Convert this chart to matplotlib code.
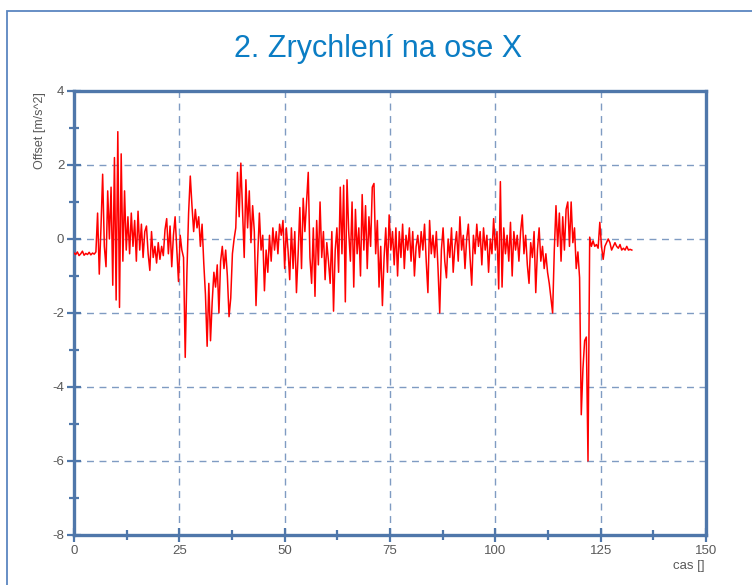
import numpy as np
import matplotlib

matplotlib.use("Agg")
import matplotlib.pyplot as plt
from matplotlib.patches import Rectangle
from matplotlib.ticker import MultipleLocator

plt.rcParams["font.family"] = ["Liberation Sans", "DejaVu Sans"]
plt.rcParams["axes.unicode_minus"] = False

# acceleration samples, one every 0.4 s
sample_step = 0.4
accel = [
    -0.38, -0.42, -0.35, -0.45, -0.40, -0.33, -0.44, -0.39, -0.42, -0.36,
    -0.43, -0.38, -0.41, -0.35, 0.70, -0.95, 0.30, 1.75, -0.20, -0.75,
    1.30, 0.00, 1.40, -1.25, 2.20, -1.65, 2.90, -1.85, 2.30, -0.60,
    1.30, -0.30, 0.60, -0.40, 0.70, -0.20, 0.50, -0.60, 0.75, -0.30,
    0.40, -0.50, 0.20, 0.35, -0.40, -0.85, 0.20, -0.50, -0.20, -0.65,
    -0.10, -0.55, -0.20, -0.45, 0.25, 0.55, -0.40, 0.35, -0.75, 0.10,
    0.60, -0.30, -1.15, 0.10, -0.30, -0.50, -3.20, -0.90, 0.70, 1.70,
    0.90, 0.20, 0.80, 0.30, 0.60, -0.20, 0.40, -0.65, -1.50, -2.90,
    -1.20, -2.75, -1.70, -0.90, -1.30, -0.70, -2.00, -0.60, -0.20, -0.80,
    -0.30, -1.00, -2.10, -1.60, -0.40, 0.00, 0.30, 1.80, 0.60, 2.05,
    0.80, -0.50, 1.60, 0.30, 1.30, -0.10, 0.90, 0.20, -1.80, -0.50,
    0.70, -0.30, 0.10, -1.40, -0.30, -0.90, 0.10, -0.60, 0.30, -0.30,
    0.20, -0.40, 0.40, 0.10, 0.50, -0.80, 0.30, -0.30, -1.10, 0.30,
    -0.80, 0.20, -1.45, -0.40, 0.85, -0.80, 1.10, 0.20, 1.00, 1.80,
    -0.50, -1.20, 0.30, -1.55, 0.50, -0.70, 1.00, -0.50, 0.20, -1.10,
    -0.10, -0.60, -1.20, 0.20, -1.95, -0.30, 0.30, -0.90, 1.40, -0.40,
    1.45, -1.70, 1.60, 0.20, -0.60, 1.00, -1.30, 0.80, -0.40, 0.30,
    -1.00, 1.20, -0.30, 0.90, -0.80, 0.60, -0.20, 1.40, 1.50, -0.40,
    0.50, -1.30, -0.20, -1.80, -0.50, 0.30, -0.90, 0.65, -0.30, 0.20,
    -0.70, 0.30, -1.00, 0.20, -0.50, 0.40, -0.80, 0.10, -0.30, 0.30,
    -0.60, 0.20, -1.00, -0.20, 0.10, -0.50, 0.20, -0.30, 0.40, -0.60,
    -1.45, 0.50, -0.40, 0.10, -0.50, 0.20, -0.80, -2.00, -0.30, 0.30,
    -0.60, -1.05, 0.00, -0.50, 0.30, -0.90, -0.20, 0.20, -0.60, 0.60,
    -0.30, 0.10, -0.80, 0.00, 0.40, -0.50, -1.25, 0.10, -0.40, 0.40,
    -0.20, 0.20, -0.70, 0.30, -0.30, 0.10, -0.90, 0.00, -0.40, 0.55,
    -0.30, 0.20, -1.35, 1.55, -1.30, 0.30, -0.40, 0.10, -0.60, 0.45,
    -1.00, 0.20, -0.30, 0.10, -0.60, 0.20, 0.65, -0.40, 0.10, -0.70,
    -1.20, -0.10, -0.50, 0.20, -1.45, -0.30, 0.30, -0.60, -0.20, -0.80,
    -0.40, -0.90, -1.20, -1.60, -2.00, -0.30, 0.90, -0.20, 0.70, -0.60,
    0.60, -0.30, 0.80, 1.00, -0.20, 1.00, -0.10, 0.30, -0.80, -0.35,
    -1.05, -4.75, -3.50, -2.75, -2.65, -6.00, 0.05, -0.20, -0.05, -0.20,
    -0.15, -0.25, 0.45, -0.20, -0.55, -0.20, -0.10, 0.00, -0.10, -0.30,
    -0.20, -0.10, -0.20, -0.25, -0.15, -0.30, -0.25, -0.30, -0.20, -0.30,
    -0.28, -0.30,
]
t = np.arange(len(accel)) * sample_step

x_major = [0, 25, 50, 75, 100, 125, 150]
y_major = [-8, -6, -4, -2, 0, 2, 4]

axis_blue = "#4f77aa"
grid_blue = "#7f9bc2"
label_grey = "#595959"

fig = plt.figure(figsize=(7.52, 5.85), dpi=100)
ax = fig.add_axes([0.0984, 0.0855, 0.8404, 0.7590])

ax.plot(t, accel, color="#ff0000", linewidth=1.1, zorder=3)

ax.set_xlim(0, 150)
ax.set_ylim(-8, 4)
ax.set_xticks(x_major)
ax.set_yticks(y_major)
ax.xaxis.set_minor_locator(MultipleLocator(12.5))
ax.yaxis.set_minor_locator(MultipleLocator(1))

ax.grid(True, which="major", color=grid_blue, linestyle=(0, (5, 4)), linewidth=1.0)
ax.set_axisbelow(True)

for spine in ax.spines.values():
    spine.set_color(axis_blue)
    spine.set_linewidth(2.4)

ax.tick_params(which="major", direction="inout", length=10, width=1.6,
               color=axis_blue, labelcolor=label_grey, labelsize=9.5, pad=2)
ax.tick_params(which="minor", direction="inout", length=7, width=1.6, color=axis_blue)

fig.text(378 / 752, 1 - 49 / 585, "2. Zrychlení na ose X", ha="center", va="center",
         fontsize=22, color="#0b7dc4")
fig.text(40 / 752, 1 - 131 / 585, "Offset [m/s^2]", rotation=90, ha="center",
         va="center", fontsize=9, color=label_grey)
fig.text(705 / 752, 1 - 566 / 585, "cas []", ha="right", va="center",
         fontsize=9.5, color=label_grey)

# outer frame of the chart area
fig.patches.append(Rectangle((7 / 752, -0.1), 1.2, 1 - 11 / 585 + 0.1,
                             transform=fig.transFigure, fill=False,
                             edgecolor="#5a86c0", linewidth=1.3))

fig.savefig("out.png", dpi=100)
plt.close(fig)
